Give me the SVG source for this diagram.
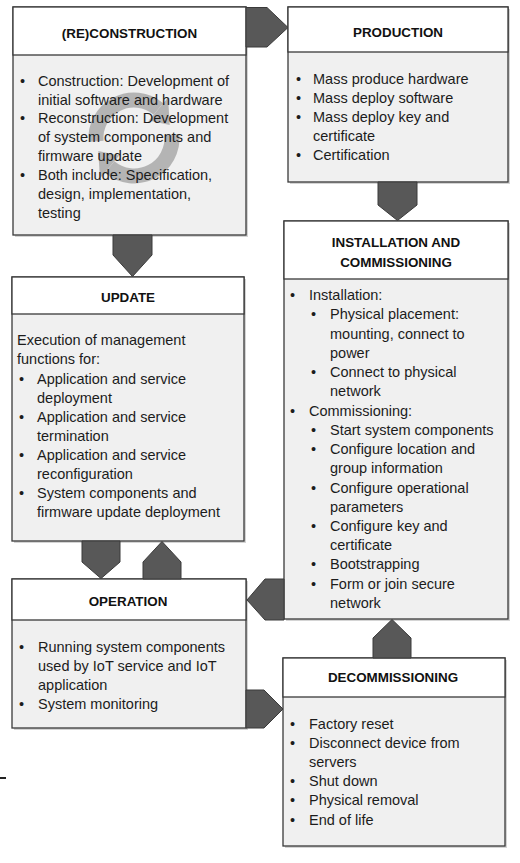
<svg xmlns="http://www.w3.org/2000/svg" width="520" height="863" viewBox="0 0 520 863">
<style>
.hdr{fill:#ffffff;stroke:#3a3a3a;stroke-width:1.3}
.body{fill:#f0f0f0;stroke:#3a3a3a;stroke-width:1.3}
.sh{fill:#d4d4d4}
.t{font-family:"Liberation Sans",Arial,sans-serif;font-size:14.5px;fill:#1c1c1c}
.h{font-family:"Liberation Sans",Arial,sans-serif;font-weight:bold;font-size:13.4px;text-anchor:middle;fill:#111}
.arr{fill:#585858;stroke:#3a3a3a;stroke-width:1}
</style>
<rect width="520" height="863" fill="#ffffff"/>

<g id="reconstruction">
<rect class="sh" x="15" y="9" width="233" height="228"/>
<rect class="body" x="13" y="7" width="233" height="228"/>
<rect class="hdr" x="13" y="7" width="233" height="48"/>
<g opacity="0.5" fill="#7a7a7a" stroke="none">
<path d="M96.1,141.3 A38,38 0 0 1 158.4,108.9" fill="none" stroke="#7a7a7a" stroke-width="15"/>
<polygon points="168.1,97.4 148.8,120.4 169.7,125"/>
<path d="M171.9,134.7 A38,38 0 0 1 109.6,167.1" fill="none" stroke="#7a7a7a" stroke-width="15"/>
<polygon points="99.9,178.6 119.2,155.6 98.3,151"/>
</g>
<text class="h" x="129.5" y="38">(RE)CONSTRUCTION</text>
<text class="t">
<tspan x="20" y="85.5">•</tspan><tspan x="38" y="85.5">Construction: Development of</tspan>
<tspan x="38" y="104.5">initial software and hardware</tspan>
<tspan x="20" y="123.4">•</tspan><tspan x="38" y="123.4">Reconstruction: Development</tspan>
<tspan x="38" y="142.4">of system components and</tspan>
<tspan x="38" y="161.3">firmware update</tspan>
<tspan x="20" y="180.3">•</tspan><tspan x="38" y="180.3">Both include: Specification,</tspan>
<tspan x="38" y="199.2">design, implementation,</tspan>
<tspan x="38" y="218.2">testing</tspan>
</text>
</g>

<g id="production">
<rect class="sh" x="290" y="9" width="220" height="175"/>
<rect class="body" x="288" y="7" width="220" height="175"/>
<rect class="hdr" x="288" y="7" width="220" height="45"/>
<text class="h" x="398" y="37">PRODUCTION</text>
<text class="t">
<tspan x="296" y="83.5">•</tspan><tspan x="313" y="83.5">Mass produce hardware</tspan>
<tspan x="296" y="102.8">•</tspan><tspan x="313" y="102.8">Mass deploy software</tspan>
<tspan x="296" y="121.8">•</tspan><tspan x="313" y="121.8">Mass deploy key and</tspan>
<tspan x="313" y="141.2">certificate</tspan>
<tspan x="296" y="160.2">•</tspan><tspan x="313" y="160.2">Certification</tspan>
</text>
</g>

<g id="installation">
<rect class="sh" x="286" y="223" width="224" height="398"/>
<rect class="body" x="284" y="221" width="224" height="398"/>
<rect class="hdr" x="284" y="221" width="224" height="58"/>
<text class="h" x="396" y="247">INSTALLATION AND</text>
<text class="h" x="396" y="267">COMMISSIONING</text>
<text class="t">
<tspan x="290" y="300.2">•</tspan><tspan x="309" y="300.2">Installation:</tspan>
<tspan x="311" y="319.4">•</tspan><tspan x="330" y="319.4">Physical placement:</tspan>
<tspan x="330" y="338.7">mounting, connect to</tspan>
<tspan x="330" y="357.9">power</tspan>
<tspan x="311" y="377.1">•</tspan><tspan x="330" y="377.1">Connect to physical</tspan>
<tspan x="330" y="396.4">network</tspan>
<tspan x="290" y="415.6">•</tspan><tspan x="309" y="415.6">Commissioning:</tspan>
<tspan x="311" y="434.8">•</tspan><tspan x="330" y="434.8">Start system components</tspan>
<tspan x="311" y="454.0">•</tspan><tspan x="330" y="454.0">Configure location and</tspan>
<tspan x="330" y="473.3">group information</tspan>
<tspan x="311" y="492.5">•</tspan><tspan x="330" y="492.5">Configure operational</tspan>
<tspan x="330" y="511.7">parameters</tspan>
<tspan x="311" y="531.0">•</tspan><tspan x="330" y="531.0">Configure key and</tspan>
<tspan x="330" y="550.2">certificate</tspan>
<tspan x="311" y="569.4">•</tspan><tspan x="330" y="569.4">Bootstrapping</tspan>
<tspan x="311" y="588.7">•</tspan><tspan x="330" y="588.7">Form or join secure</tspan>
<tspan x="330" y="607.9">network</tspan>
</text>
</g>

<g id="update">
<rect class="sh" x="14" y="279" width="232" height="264"/>
<rect class="body" x="12" y="277" width="232" height="264"/>
<rect class="hdr" x="12" y="277" width="232" height="37"/>
<text class="h" x="128" y="302">UPDATE</text>
<text class="t">
<tspan x="17" y="345.2">Execution of management</tspan>
<tspan x="17" y="364.3">functions for:</tspan>
<tspan x="19" y="383.5">•</tspan><tspan x="37" y="383.5">Application and service</tspan>
<tspan x="37" y="402.6">deployment</tspan>
<tspan x="19" y="421.7">•</tspan><tspan x="37" y="421.7">Application and service</tspan>
<tspan x="37" y="440.9">termination</tspan>
<tspan x="19" y="460.0">•</tspan><tspan x="37" y="460.0">Application and service</tspan>
<tspan x="37" y="479.1">reconfiguration</tspan>
<tspan x="19" y="498.2">•</tspan><tspan x="37" y="498.2">System components and</tspan>
<tspan x="37" y="517.4">firmware update deployment</tspan>
</text>
</g>

<g id="operation">
<rect class="sh" x="14" y="581" width="234" height="149"/>
<rect class="body" x="12" y="579" width="234" height="149"/>
<rect class="hdr" x="12" y="579" width="234" height="41"/>
<text class="h" x="128" y="606">OPERATION</text>
<text class="t">
<tspan x="19" y="651.5">•</tspan><tspan x="38" y="651.5">Running system components</tspan>
<tspan x="38" y="670.7">used by IoT service and IoT</tspan>
<tspan x="38" y="689.9">application</tspan>
<tspan x="19" y="709.1">•</tspan><tspan x="38" y="709.1">System monitoring</tspan>
</text>
</g>

<g id="decommissioning">
<rect class="sh" x="285" y="660" width="222" height="188"/>
<rect class="body" x="283" y="658" width="222" height="188"/>
<rect class="hdr" x="283" y="658" width="222" height="39"/>
<text class="h" x="393" y="682">DECOMMISSIONING</text>
<text class="t">
<tspan x="290" y="728.5">•</tspan><tspan x="309" y="728.5">Factory reset</tspan>
<tspan x="290" y="747.7">•</tspan><tspan x="309" y="747.7">Disconnect device from</tspan>
<tspan x="309" y="766.9">servers</tspan>
<tspan x="290" y="786.1">•</tspan><tspan x="309" y="786.1">Shut down</tspan>
<tspan x="290" y="805.3">•</tspan><tspan x="309" y="805.3">Physical removal</tspan>
<tspan x="290" y="824.5">•</tspan><tspan x="309" y="824.5">End of life</tspan>
</text>
</g>

<g id="connectors">
<polygon class="arr" points="246,7.5 267,7.5 288,27.5 267,47 246,47"/>
<polygon class="arr" points="378,182 417,182 417,205 397.5,220.5 378,205"/>
<polygon class="arr" points="113,235 152,235 152,255 132.5,276.5 113,255"/>
<polygon class="arr" points="82,541 120,541 120,562 101,578.5 82,562"/>
<polygon class="arr" points="143,579 181,579 181,562 162,541.5 143,562"/>
<polygon class="arr" points="284,579 265,579 247,600 265,620 284,620"/>
<polygon class="arr" points="246,690 264,690 283,709 264,728 246,728"/>
<polygon class="arr" points="373,658 411,658 411,638 392,619.5 373,638"/>
</g>

<rect x="0" y="777" width="6" height="2" fill="#222"/>
</svg>
